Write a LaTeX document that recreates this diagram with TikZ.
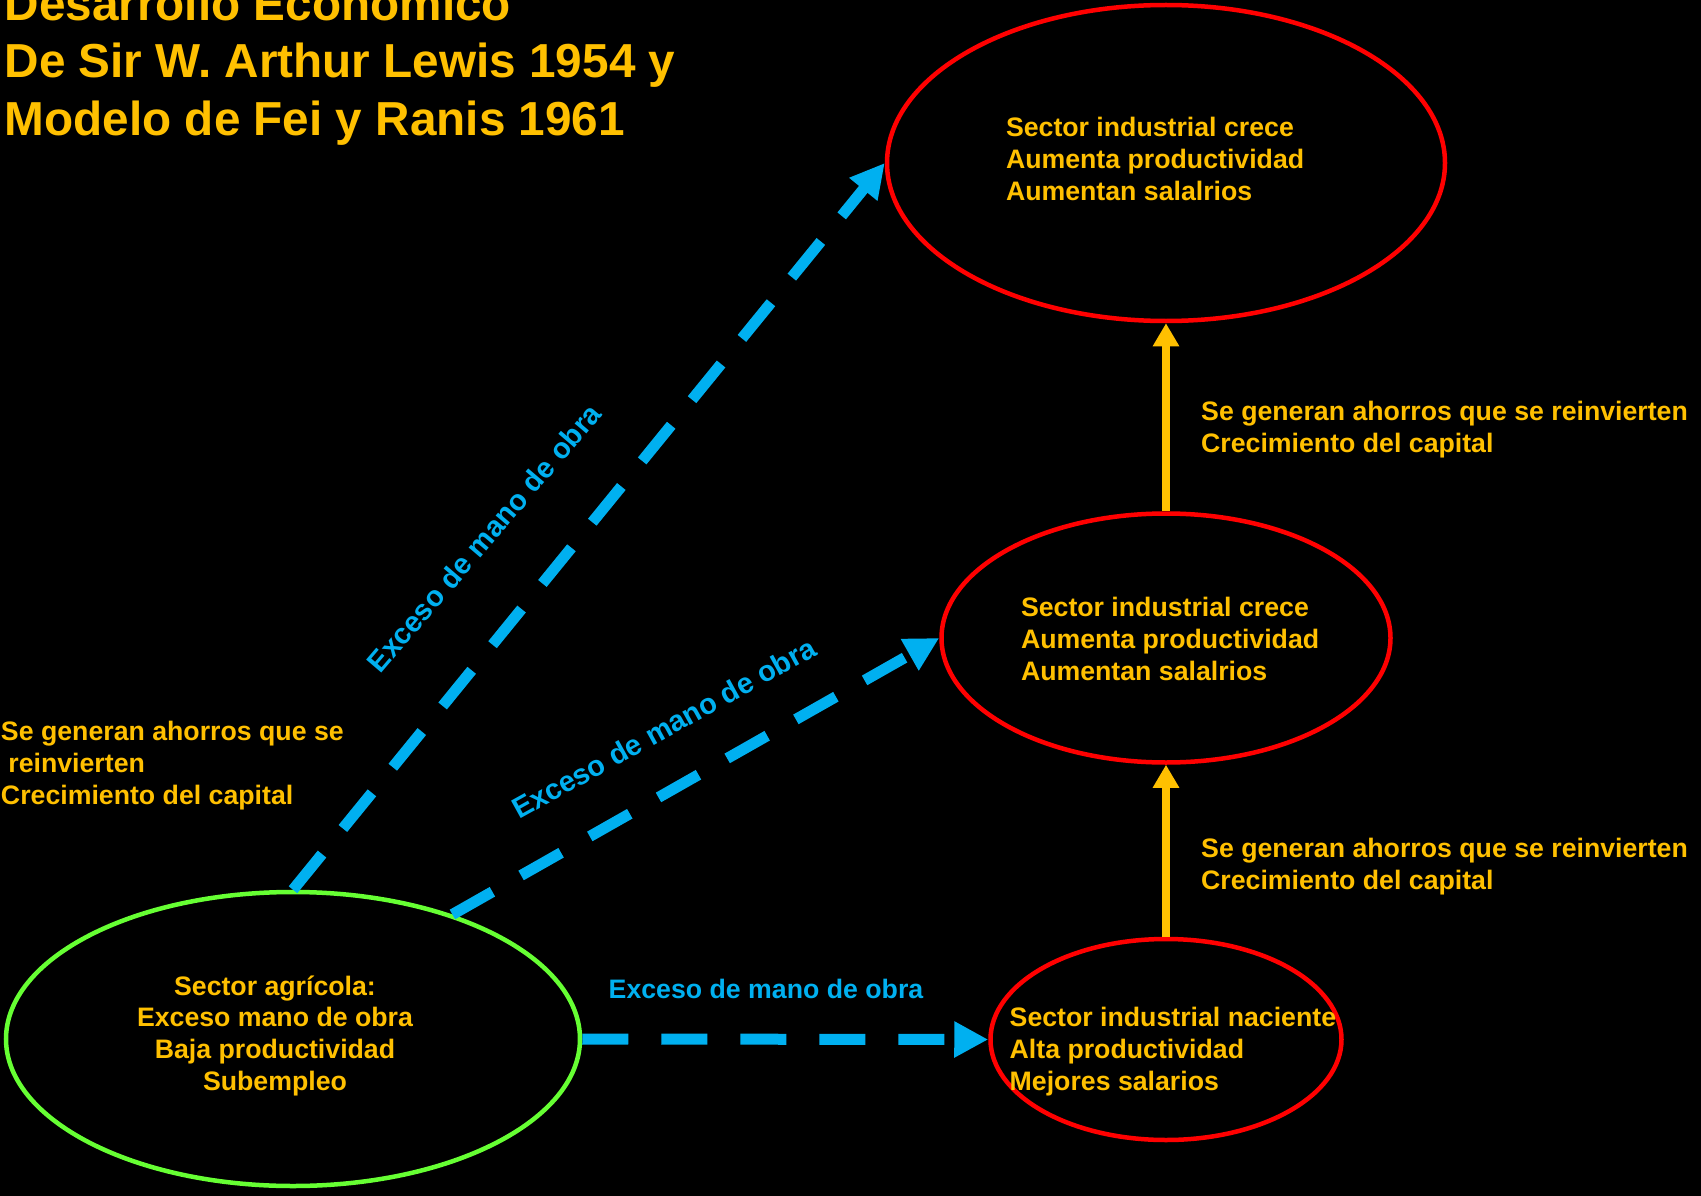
\documentclass[tikz,border=0pt]{standalone}
\usepackage{fontspec}
\setmainfont{Liberation Sans}
\usetikzlibrary{arrows.meta,shapes.geometric}
\definecolor{gold}{HTML}{FFC000}
\definecolor{sky}{HTML}{00B0F0}
\definecolor{redline}{HTML}{FF0000}
\definecolor{greenline}{HTML}{66FF33}
\begin{document}
\begin{tikzpicture}[x=1pt,y=-1pt,
  oval/.style={ellipse, draw, line width=4.5pt, inner sep=0pt},
  redoval/.style={oval, draw=redline},
  greenoval/.style={oval, draw=greenline},
  txt/.style={text=gold, inner sep=0pt, anchor=base west, font=\fontsize{26.7pt}{31.7pt}\selectfont\bfseries},
  ctxt/.style={txt, anchor=base},
  titletxt/.style={text=gold, inner sep=0pt, anchor=base west, font=\fontsize{47.7pt}{57.2pt}\selectfont\bfseries},
  hlab/.style={text=sky, inner sep=0pt, anchor=base west, font=\fontsize{26.7pt}{31.7pt}\selectfont\bfseries},
  dlab/.style={text=sky, inner sep=0pt, anchor=center, font=\fontsize{29pt}{34pt}\selectfont\bfseries},
  flowarrow/.style={draw=sky, line width=11pt, dash pattern=on 46pt off 33pt, -{Triangle[length=34pt,width=34pt]}},
  growarrow/.style={draw=gold, line width=8pt, -{Triangle[length=23pt,width=25pt]}}
]
\useasboundingbox (0,0) rectangle (1701,1196);
\fill[black] (0,0) rectangle (1701,1196);

% title
\node[titletxt] (title) at (4.5,20.7) {\begin{tabular}[t]{@{}l@{}}Desarrollo Económico\\De Sir W. Arthur Lewis 1954 y\\Modelo de Fei y Ranis 1961\end{tabular}};

% ellipses
\node[redoval, minimum width=558pt, minimum height=316pt] (top) at (1166,163) {};
\node[redoval, minimum width=449pt, minimum height=249pt] (mid) at (1166,638) {};
\node[redoval, minimum width=351pt, minimum height=201pt] (low) at (1166,1039.5) {};
\node[greenoval, minimum width=574pt, minimum height=294pt] (agr) at (293,1039) {};

% texts in ellipses
\node[txt] (toptext) at (1005.8,136.7) {\begin{tabular}[t]{@{}l@{}}Sector industrial crece\\Aumenta productividad\\Aumentan salalrios\end{tabular}};
\node[txt] (midtext) at (1020.8,616.7) {\begin{tabular}[t]{@{}l@{}}Sector industrial crece\\Aumenta productividad\\Aumentan salalrios\end{tabular}};
\node[txt] (lowtext) at (1009.5,1026.7) {\begin{tabular}[t]{@{}l@{}}Sector industrial naciente\\Alta productividad\\Mejores salarios\end{tabular}};
\node[ctxt] (agrtext) at (275,995) {\begin{tabular}[t]{@{}c@{}}Sector agrícola:\\Exceso mano de obra\\Baja productividad\\Subempleo\end{tabular}};

% side texts
\node[txt] (lefttext) at (0.8,740.7) {\begin{tabular}[t]{@{}l@{}}Se generan ahorros que se\\\ reinvierten\\Crecimiento del capital\end{tabular}};
\node[txt] (righttext1) at (1201,420.7) {\begin{tabular}[t]{@{}l@{}}Se generan ahorros que se reinvierten\\Crecimiento del capital\end{tabular}};
\node[txt] (righttext2) at (1201,857.3) {\begin{tabular}[t]{@{}l@{}}Se generan ahorros que se reinvierten\\Crecimiento del capital\end{tabular}};

% connectors
\draw[flowarrow] (agr.north) -- (top.west);
\draw[flowarrow] (agr.38.7) -- (mid.west);
\draw[flowarrow] (agr.east) -- (low.west);
\draw[growarrow] (low.north) -- (mid.south);
\draw[growarrow] (mid.north) -- (top.south);

% connector labels
\node[dlab, rotate=49.5] (lab1) at (484,538) {Exceso de mano de obra};
\node[dlab, rotate=29] (lab2) at (664,728) {Exceso de mano de obra};
\node[hlab] (lab3) at (608.5,998) {Exceso de mano de obra};
\end{tikzpicture}
\end{document}
